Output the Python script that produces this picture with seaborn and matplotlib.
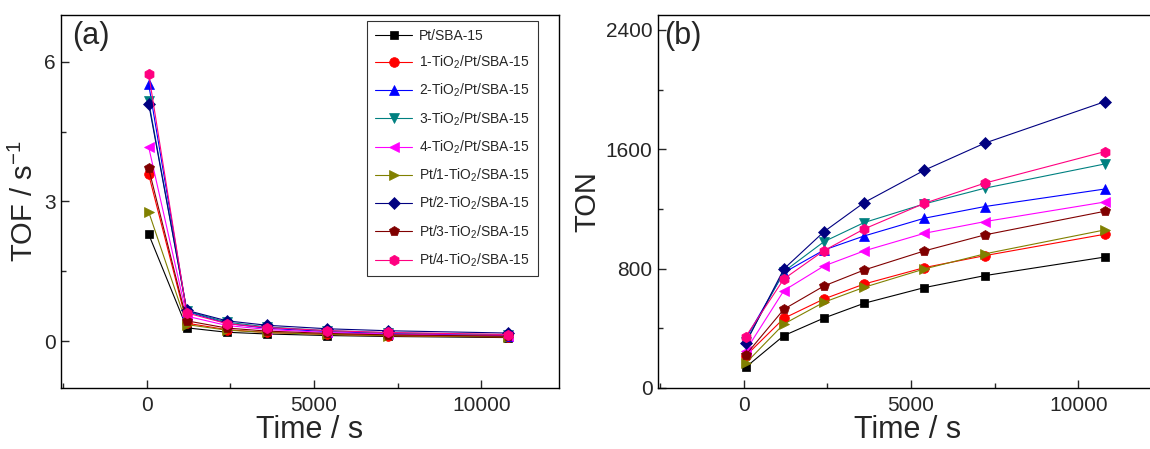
import numpy as np
import pandas as pd
import matplotlib
matplotlib.use('Agg')
import matplotlib.pyplot as plt
from matplotlib.ticker import MultipleLocator
import seaborn as sns

# reaction time (s)
time_s = [60, 1200, 2400, 3600, 5400, 7200, 10800]

samples = ['Pt/SBA-15', '1-TiO$_2$/Pt/SBA-15', '2-TiO$_2$/Pt/SBA-15', '3-TiO$_2$/Pt/SBA-15',
           '4-TiO$_2$/Pt/SBA-15', 'Pt/1-TiO$_2$/SBA-15', 'Pt/2-TiO$_2$/SBA-15',
           'Pt/3-TiO$_2$/SBA-15', 'Pt/4-TiO$_2$/SBA-15']

# TOF / s-1 (panel a)
tof_pt = [2.30, 0.29, 0.195, 0.158, 0.125, 0.105, 0.081]
tof_1t_pt = [3.58, 0.39, 0.25, 0.19, 0.15, 0.12, 0.095]
tof_2t_pt = [5.52, 0.64, 0.385, 0.28, 0.21, 0.17, 0.12]
tof_3t_pt = [5.15, 0.65, 0.41, 0.31, 0.23, 0.186, 0.139]
tof_4t_pt = [4.17, 0.54, 0.34, 0.255, 0.19, 0.155, 0.115]
tof_pt_1t = [2.78, 0.36, 0.24, 0.19, 0.148, 0.125, 0.098]
tof_pt_2t = [5.10, 0.665, 0.44, 0.345, 0.27, 0.228, 0.178]
tof_pt_3t = [3.71, 0.44, 0.285, 0.22, 0.17, 0.14, 0.11]
tof_pt_4t = [5.74, 0.61, 0.38, 0.296, 0.23, 0.19, 0.147]

# TON (panel b)
ton_pt = [139, 351, 469, 568, 673, 753, 878]
ton_1t_pt = [215, 467, 597, 697, 807, 887, 1031]
ton_2t_pt = [331, 773, 925, 1019, 1138, 1216, 1334]
ton_3t_pt = [309, 780, 981, 1109, 1234, 1339, 1502]
ton_4t_pt = [250, 653, 818, 919, 1037, 1115, 1247]
ton_pt_1t = [166, 429, 575, 675, 798, 899, 1060]
ton_pt_2t = [300, 798, 1048, 1243, 1460, 1641, 1920]
ton_pt_3t = [221, 528, 684, 791, 919, 1026, 1185]
ton_pt_4t = [344, 731, 921, 1066, 1238, 1373, 1585]

tof_all = [tof_pt, tof_1t_pt, tof_2t_pt, tof_3t_pt, tof_4t_pt, tof_pt_1t, tof_pt_2t, tof_pt_3t, tof_pt_4t]
ton_all = [ton_pt, ton_1t_pt, ton_2t_pt, ton_3t_pt, ton_4t_pt, ton_pt_1t, ton_pt_2t, ton_pt_3t, ton_pt_4t]

colors = ['#000000', '#FF0000', '#0000FF', '#008080', '#FF00FF', '#808000', '#000080', '#800000', '#FF0080']
markers = ['s', 'o', '^', 'v', '<', '>', 'D', 'p', 'h']
sizes = [6, 7, 7.5, 7.5, 7.5, 7.5, 6, 7.5, 7.5]

sns.set_style('ticks')
plt.rcParams['font.family'] = ['Liberation Sans', 'DejaVu Sans']
plt.rcParams['mathtext.fontset'] = 'custom'
plt.rcParams['mathtext.rm'] = 'Liberation Sans'
plt.rcParams['mathtext.it'] = 'Liberation Sans:italic'
plt.rcParams['axes.linewidth'] = 1.0

fig = plt.figure(figsize=(11.5, 4.49), dpi=100)
ax1 = fig.add_axes([0.0530, 0.1359, 0.4331, 0.8307])
ax2 = fig.add_axes([0.5722, 0.1359, 0.4331, 0.8307])

for i in range(len(samples)):
    sns.lineplot(x=time_s, y=tof_all[i], ax=ax1, color=colors[i], marker=markers[i],
                 markersize=sizes[i], mec=colors[i], mew=0.5, lw=0.8, label=samples[i])
    sns.lineplot(x=time_s, y=ton_all[i], ax=ax2, color=colors[i], marker=markers[i],
                 markersize=sizes[i], mec=colors[i], mew=0.5, lw=0.8, legend=False)

for ax in (ax1, ax2):
    ax.set_xlim(-2560, 12320)
    ax.xaxis.set_major_locator(MultipleLocator(5000))
    ax.xaxis.set_minor_locator(MultipleLocator(2500))
    ax.tick_params(which='both', direction='in', labelsize=15, width=1.0, pad=4)
    ax.tick_params(which='major', length=6)
    ax.tick_params(which='minor', length=3.5)
    ax.tick_params(axis='x', which='both', top=False, pad=6)
    ax.set_xlabel('Time / s', fontsize=22, labelpad=0)
    for s in ax.spines.values():
        s.set_visible(True)
        s.set_color('black')

ax1.set_ylim(-1, 7)
ax1.yaxis.set_major_locator(MultipleLocator(3))
ax1.yaxis.set_minor_locator(MultipleLocator(1.5))
ax1.tick_params(axis='y', which='both', right=False)
ax1.set_ylabel('TOF / s$^{-1}$', fontsize=21, labelpad=3)
ax1.text(0.022, 0.985, '(a)', transform=ax1.transAxes, fontsize=22, va='top', ha='left')

ax2.set_ylim(0, 2500)
ax2.yaxis.set_major_locator(MultipleLocator(800))
ax2.yaxis.set_minor_locator(MultipleLocator(400))
ax2.tick_params(axis='y', which='both', right=False)
ax2.set_ylabel('TON', fontsize=21, labelpad=3)
ax2.text(0.012, 0.985, '(b)', transform=ax2.transAxes, fontsize=22, va='top', ha='left')

leg = ax1.legend(loc='upper right', bbox_to_anchor=(0.957, 0.983), borderaxespad=0,
                 fontsize=10, frameon=True, fancybox=False, edgecolor='black',
                 handlelength=2.7, handletextpad=0.5, labelspacing=0.78, borderpad=0.55)
leg.get_frame().set_linewidth(0.8)

fig.savefig('out.png', dpi=100)
